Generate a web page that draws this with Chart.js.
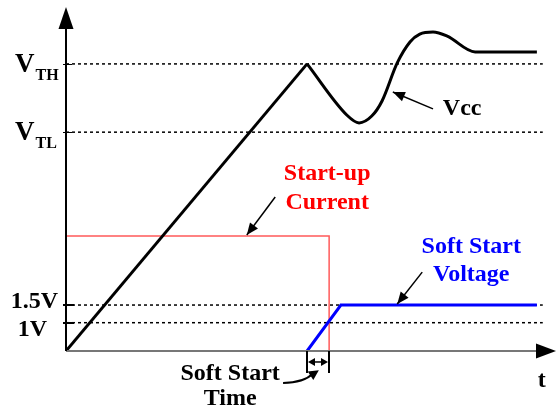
<!DOCTYPE html>
<html>
<head>
<meta charset="utf-8">
<script src="https://cdn.jsdelivr.net/npm/chart.js@4.4.0/dist/chart.umd.min.js"></script>
<style>
html, body { margin: 0; padding: 0; background: #fff; }
#wrap { width: 557px; height: 412px; position: relative; }
</style>
</head>
<body>
<div id="wrap"><canvas id="chart"></canvas></div>
<script>
// Niveles de referencia (unidades arbitrarias, eje y de 0 a 100)
const levelNames = ['VTH', 'VTL', '1.5V', '1V'];
const levelValues = [83.7, 63.8, 13.4, 8.25];
const dottedEndX = 97.3;

// Vcc: rampa y oscilación
const vccRampX = [0, 49.2];
const vccRampY = [0, 83.7];
const vccWaveX = [49.2, 57.3, 59.8, 62.4, 64.5, 67.6, 70.2, 72.2, 74.9, 77.8, 83.5, 96.1];
const vccWaveY = [83.7, 68.8, 66.5, 68.5, 72.9, 84.0, 90.1, 92.4, 93.0, 91.8, 87.2, 87.2];

// Corriente de arranque
const currentX = [0, 53.7, 53.7];
const currentY = [33.5, 33.5, 0];

// Tensión de arranque suave
const softX = [49.2, 56.1, 96.1];
const softY = [0, 13.4, 13.4];

const FONT = '"Liberation Serif", "Times New Roman", serif';

function pts(xs, ys) {
    return xs.map((x, i) => ({ x: x, y: ys[i] }));
}

const dottedSets = levelValues.map(v => ({
    data: [{ x: 0, y: v }, { x: dottedEndX, y: v }],
    borderColor: '#000',
    borderWidth: 1.5,
    borderDash: [3, 3],
    pointRadius: 0
}));

// Flecha con punta rellena
function arrowHead(ctx, x1, y1, x2, y2, len, half) {
    const a = Math.atan2(y2 - y1, x2 - x1);
    ctx.beginPath();
    ctx.moveTo(x2, y2);
    ctx.lineTo(x2 - len * Math.cos(a) + half * Math.sin(a), y2 - len * Math.sin(a) - half * Math.cos(a));
    ctx.lineTo(x2 - len * Math.cos(a) - half * Math.sin(a), y2 - len * Math.sin(a) + half * Math.cos(a));
    ctx.closePath();
    ctx.fill();
}

function arrow(ctx, x1, y1, x2, y2) {
    ctx.beginPath();
    ctx.moveTo(x1, y1);
    ctx.lineTo(x2, y2);
    ctx.stroke();
    arrowHead(ctx, x1, y1, x2, y2, 12, 5);
}

const annotations = {
    id: 'annotations',
    afterDatasetsDraw(chart) {
        const ctx = chart.ctx;
        const xs = chart.scales.x, ys = chart.scales.y;
        const X = v => xs.getPixelForValue(v);
        const Y = v => ys.getPixelForValue(v);
        const x0 = X(0), y0 = Y(0);
        ctx.save();
        ctx.lineCap = 'butt';

        // eje x (gris) con flecha
        ctx.strokeStyle = '#777';
        ctx.lineWidth = 2;
        ctx.beginPath();
        ctx.moveTo(x0, y0);
        ctx.lineTo(X(100) - 15, y0);
        ctx.stroke();
        ctx.fillStyle = '#000';
        arrowHead(ctx, x0, y0, X(100), y0, 20, 7.5);

        // eje y con flecha
        ctx.strokeStyle = '#000';
        ctx.lineWidth = 2;
        ctx.beginPath();
        ctx.moveTo(x0, y0);
        ctx.lineTo(x0, Y(100) + 15);
        ctx.stroke();
        arrowHead(ctx, x0, y0, x0, Y(100) - 1, 22, 7.5);

        // marcas del eje y
        levelValues.forEach((v, i) => {
            const big = i >= 2;
            ctx.lineWidth = big ? 2 : 1;
            ctx.beginPath();
            ctx.moveTo(x0 - 3, Math.round(Y(v)) + (big ? 0 : 0.5));
            ctx.lineTo(x0 + (big ? 8 : 6), Math.round(Y(v)) + (big ? 0 : 0.5));
            ctx.stroke();
        });

        // etiquetas de nivel
        ctx.fillStyle = '#000';
        ctx.textBaseline = 'alphabetic';
        [[0, 'TH'], [1, 'TL']].forEach(([i, sub]) => {
            const py = Y(levelValues[i]);
            ctx.textAlign = 'left';
            ctx.font = 'bold 27px ' + FONT;
            ctx.fillText('V', x0 - 51, py + 8);
            const w = ctx.measureText('V').width;
            ctx.font = 'bold 16px ' + FONT;
            ctx.fillText(sub, x0 - 51 + w + 1, py + 16);
        });
        ctx.font = 'bold 24px ' + FONT;
        ctx.textAlign = 'right';
        ctx.fillText('1.5V', x0 - 8, Y(levelValues[2]) + 3);
        ctx.fillText('1V', x0 - 19, Y(levelValues[3]) + 13);

        // textos
        ctx.textAlign = 'center';
        ctx.fillText('t', X(97.1), Y(-10.5));
        ctx.textAlign = 'left';
        ctx.fillText('Vcc', X(76.9), Y(68.8));
        ctx.textAlign = 'center';
        ctx.fillStyle = '#ff0000';
        ctx.fillText('Start-up', X(53.3), Y(49.9));
        ctx.fillText('Current', X(53.3), Y(41.4));
        ctx.fillStyle = '#0000ff';
        ctx.fillText('Soft Start', X(82.7), Y(28.6));
        ctx.fillText('Voltage', X(82.7), Y(20.4));
        ctx.fillStyle = '#000';
        ctx.fillText('Soft Start', X(33.5), Y(-8.5));
        ctx.fillText('Time', X(33.5), Y(-15.7));

        // flechas indicadoras
        ctx.lineWidth = 1.5;
        ctx.strokeStyle = '#000';
        arrow(ctx, X(74.9), Y(70.6), X(66.7), Y(75.5));
        arrow(ctx, X(42.7), Y(44.9), X(36.9), Y(33.8));
        arrow(ctx, X(72.7), Y(23.0), X(67.6), Y(13.7));

        // tiempo de arranque suave
        ctx.lineWidth = 2;
        [49.2, 53.7].forEach(v => {
            ctx.beginPath();
            ctx.moveTo(Math.round(X(v)), y0);
            ctx.lineTo(Math.round(X(v)), Y(-6.4));
            ctx.stroke();
        });
        ctx.lineWidth = 1.5;
        const ya = Y(-3.2), xa = Math.round(X(49.2)) + 1, xb = Math.round(X(53.7)) - 1;
        ctx.beginPath();
        ctx.moveTo(xa + 5, ya);
        ctx.lineTo(xb - 5, ya);
        ctx.stroke();
        arrowHead(ctx, xb, ya, xa, ya, 7, 4);
        arrowHead(ctx, xa, ya, xb, ya, 7, 4);

        // flecha curva
        ctx.lineWidth = 2;
        ctx.beginPath();
        ctx.moveTo(X(44.3), Y(-9.3));
        ctx.quadraticCurveTo(X(48.5), Y(-9.3), X(50.5), Y(-6.5));
        ctx.stroke();
        arrowHead(ctx, X(49.5), Y(-7.6), X(51.6), Y(-5.6), 10, 5);

        ctx.restore();
    }
};

new Chart(document.getElementById('chart'), {
    type: 'line',
    data: {
        datasets: [
            {
                data: pts(vccRampX, vccRampY),
                borderColor: '#000',
                borderWidth: 3,
                pointRadius: 0,
                tension: 0
            },
            {
                data: pts(vccWaveX, vccWaveY),
                borderColor: '#000',
                borderWidth: 3,
                pointRadius: 0,
                cubicInterpolationMode: 'monotone'
            },
            {
                data: pts(softX, softY),
                borderColor: '#0000ff',
                borderWidth: 3,
                pointRadius: 0,
                tension: 0
            },
            {
                data: pts(currentX, currentY),
                borderColor: '#ff5a5a',
                borderWidth: 1.5,
                pointRadius: 0,
                tension: 0
            },
            ...dottedSets
        ]
    },
    options: {
        responsive: true,
        maintainAspectRatio: false,
        animation: false,
        layout: { padding: { left: 66, right: 1, top: 8, bottom: 61 } },
        plugins: {
            legend: { display: false },
            tooltip: { enabled: false }
        },
        scales: {
            x: { type: 'linear', min: 0, max: 100, display: false },
            y: { type: 'linear', min: 0, max: 100, display: false }
        },
        elements: { line: { borderCapStyle: 'butt', borderJoinStyle: 'miter' } }
    },
    plugins: [annotations]
});
</script>
</body>
</html>
